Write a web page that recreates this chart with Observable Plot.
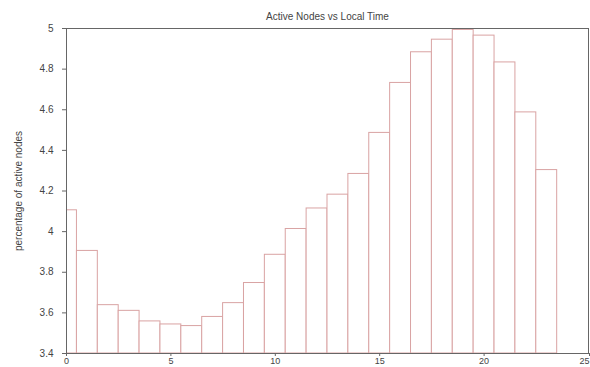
<!DOCTYPE html>
<html>
<head>
<meta charset="utf-8">
<script src="https://cdn.jsdelivr.net/npm/d3@7"></script>
<script src="https://cdn.jsdelivr.net/npm/@observablehq/plot@0.6"></script>
<style>
  html, body { margin: 0; padding: 0; background: #fff; }
  svg { display: block; }
</style>
</head>
<body>
<div id="chart"></div>
<script>
const hours = [0,1,2,3,4,5,6,7,8,9,10,11,12,13,14,15,16,17,18,19,20,21,22,23];
const activePct = [4.105,3.905,3.638,3.61,3.558,3.543,3.535,3.58,3.648,3.747,3.886,4.013,4.114,4.182,4.284,4.486,4.732,4.883,4.945,4.993,4.965,4.833,4.587,4.303];
const xTicks = [0,5,10,15,20,25];
const yTicks = [3.4,3.6,3.8,4,4.2,4.4,4.6,4.8,5];
const title = "Active Nodes vs Local Time";
const yLabel = "percentage of active nodes";

const data = hours.map((h, i) => ({hour: h, value: activePct[i]}));
const lastX = xTicks[xTicks.length - 1];

const chart = Plot.plot({
  width: 590,
  height: 367,
  marginLeft: 66,
  marginRight: 2,
  marginTop: 28,
  marginBottom: 14,
  style: {fontFamily: "'Liberation Sans', Arial, sans-serif", color: "#444", background: "#fff"},
  x: {domain: [0, 25]},
  y: {domain: [3.4, 5]},
  marks: [
    Plot.rectY(data, {
      x1: d => d.hour - 0.5,
      x2: d => d.hour + 0.5,
      y1: 3.4,
      y2: "value",
      fill: "white",
      stroke: "#d9a3a3",
      strokeWidth: 1,
      clip: true
    }),
    Plot.frame({stroke: "#666"}),
    Plot.axisX({ticks: xTicks.slice(0, -1), tickSize: 3, tickPadding: 1, fontSize: 9, label: null, tickFormat: d => String(d), stroke: "#666"}),
    Plot.axisX({ticks: [lastX], tickSize: 3, tickPadding: 1, fontSize: 9, label: null, tickFormat: d => String(d), stroke: "#666", textAnchor: "end", dx: 1}),
    Plot.axisY({ticks: yTicks, tickSize: 4, tickPadding: 9, fontSize: 10, tickFormat: d => String(+d.toFixed(1)), label: yLabel, labelAnchor: "center", labelOffset: 52, labelArrow: false, stroke: "#666"}),
    Plot.text([title], {frameAnchor: "top", dy: -16, fontSize: 10, fill: "#444", text: d => d})
  ]
});
document.getElementById("chart").appendChild(chart);
</script>
</body>
</html>
